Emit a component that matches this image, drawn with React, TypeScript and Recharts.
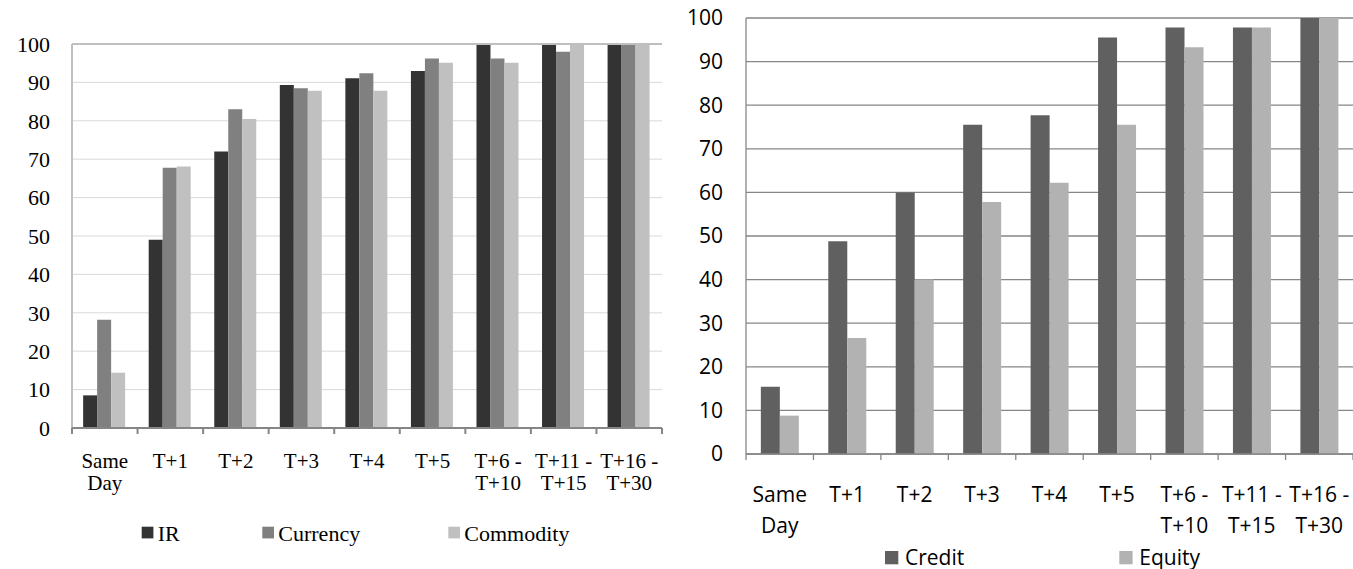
import React from 'react';
import { BarChart, Bar, XAxis, YAxis, CartesianGrid, ReferenceLine } from 'recharts';

// Settlement buckets shared by both panels
const categories = ['Same\nDay', 'T+1', 'T+2', 'T+3', 'T+4', 'T+5', 'T+6 -\nT+10', 'T+11 -\nT+15', 'T+16 -\nT+30'];

// Left panel
const irValues = [8.5, 49, 72, 89.3, 91.1, 93, 100, 100, 100];
const currencyValues = [28.2, 67.8, 83, 88.5, 92.4, 96.2, 96.2, 98, 100];
const commodityValues = [14.4, 68.1, 80.5, 87.8, 87.8, 95.1, 95.1, 100, 100];

// Right panel
const creditValues = [15.4, 48.8, 60, 75.5, 77.7, 95.5, 97.8, 97.8, 100];
const equityValues = [8.8, 26.6, 40, 57.8, 62.2, 75.5, 93.3, 97.8, 100];

const yTicks = [0, 10, 20, 30, 40, 50, 60, 70, 80, 90, 100];

const leftSeries = [
  { key: 'IR', color: '#333333' },
  { key: 'Currency', color: '#808080' },
  { key: 'Commodity', color: '#c0c0c0' },
];
const rightSeries = [
  { key: 'Credit', color: '#606060' },
  { key: 'Equity', color: '#b2b2b2' },
];

const leftData = categories.map((cat, i) => ({
  cat,
  IR: irValues[i],
  Currency: currencyValues[i],
  Commodity: commodityValues[i],
}));
const rightData = categories.map((cat, i) => ({
  cat,
  Credit: creditValues[i],
  Equity: equityValues[i],
}));

const SERIF = '"Liberation Serif", "Times New Roman", serif';
const SANS = '"Open Sans", "Noto Sans", sans-serif';

// x labels can wrap onto two lines; Excel-style tick marks sit between categories
const MultiLineTick = (props: any) => {
  const { x, y, payload, index, fontFamily, fontSize, lineOffsets, band, tickColor, tickWidth } = props;
  const lines = String(payload.value).split('\n');
  const half = payload.offset > 0 ? payload.offset : band / 2;
  const isLast = index === categories.length - 1;
  return (
    <g>
      <line x1={x - half} x2={x - half} y1={y} y2={y + 6} stroke={tickColor} strokeWidth={tickWidth} />
      {isLast && <line x1={x + half} x2={x + half} y1={y} y2={y + 6} stroke={tickColor} strokeWidth={tickWidth} />}
      <text x={x} textAnchor="middle" fontFamily={fontFamily} fontSize={fontSize} fill="#000">
        {lines.map((ln: string, i: number) => (
          <tspan key={i} x={x} y={y + lineOffsets[i]}>{ln}</tspan>
        ))}
      </text>
    </g>
  );
};

const App: React.FC = () => {
  return (
    <div style={{ position: 'absolute', left: 0, top: 0, width: 1353, height: 569, background: '#fff', overflow: 'hidden' }}>
      {/* Left panel */}
      <div style={{ position: 'absolute', left: 0, top: 0 }}>
        <BarChart
          width={665}
          height={569}
          data={leftData}
          margin={{ top: 44, right: 3, left: 0, bottom: 140 }}
          barCategoryGap="17%"
          barGap={0}
        >
          <CartesianGrid vertical={false} stroke="#d9d9d9" />
          <ReferenceLine y={100} stroke="#bfbfbf" strokeWidth={2} />
          <YAxis
            type="number"
            domain={[0, 100]}
            ticks={yTicks}
            interval={0}
            width={72}
            tickLine={false}
            tickSize={0}
            tickMargin={22}
            axisLine={{ stroke: '#bfbfbf', strokeWidth: 2 }}
            tick={{ fill: '#000', fontSize: 22, fontFamily: SERIF }}
          />
          <XAxis
            dataKey="cat"
            height={1}
            interval={0}
            tickLine={false}
            tickSize={0}
            tickMargin={0}
            axisLine={{ stroke: '#868686', strokeWidth: 2 }}
            tick={<MultiLineTick fontFamily={SERIF} fontSize={21} lineOffsets={[40, 61.5]} band={590 / 9} tickColor="#868686" tickWidth={2} />}
          />
          {leftSeries.map(s => (
            <Bar key={s.key} dataKey={s.key} fill={s.color} isAnimationActive={false} />
          ))}
        </BarChart>
      </div>

      {/* Right panel */}
      <div style={{ position: 'absolute', left: 680, top: 0 }}>
        <BarChart
          width={673}
          height={569}
          data={rightData}
          margin={{ top: 18, right: 0, left: 0, bottom: 114 }}
          barCategoryGap="22%"
          barGap={0}
        >
          <CartesianGrid vertical={false} stroke="#868686" strokeWidth={1.3} />
          <YAxis
            type="number"
            domain={[0, 100]}
            ticks={yTicks}
            interval={0}
            width={66}
            tickLine={false}
            tickSize={0}
            tickMargin={23}
            axisLine={{ stroke: '#868686', strokeWidth: 1.3 }}
            tick={{ fill: '#000', fontSize: 21, fontFamily: SANS }}
          />
          <XAxis
            dataKey="cat"
            height={1}
            interval={0}
            tickLine={false}
            tickSize={0}
            tickMargin={0}
            axisLine={{ stroke: '#868686', strokeWidth: 1.3 }}
            tick={<MultiLineTick fontFamily={SANS} fontSize={21} lineOffsets={[48, 79]} band={607 / 9} tickColor="#868686" tickWidth={1.3} />}
          />
          {rightSeries.map(s => (
            <Bar key={s.key} dataKey={s.key} fill={s.color} isAnimationActive={false} />
          ))}
        </BarChart>
      </div>

      {/* Legends */}
      <svg width={1353} height={569} style={{ position: 'absolute', left: 0, top: 0, pointerEvents: 'none' }}>
        {leftSeries.map((s, i) => {
          const lx = [141.7, 262.3, 448.3][i];
          return (
            <g key={s.key}>
              <rect x={lx} y={526.7} width={11.7} height={11.7} fill={s.color} />
              <text x={lx + 16} y={540.7} fontFamily={SERIF} fontSize={22} fill="#000">{s.key}</text>
            </g>
          );
        })}
        {rightSeries.map((s, i) => {
          const lx = [885, 1119.3][i];
          return (
            <g key={s.key}>
              <rect x={lx} y={551} width={13.3} height={13.3} fill={s.color} />
              <text x={lx + 20} y={564.5} fontFamily={SANS} fontSize={21} fill="#000">{s.key}</text>
            </g>
          );
        })}
      </svg>
    </div>
  );
};

export default App;
